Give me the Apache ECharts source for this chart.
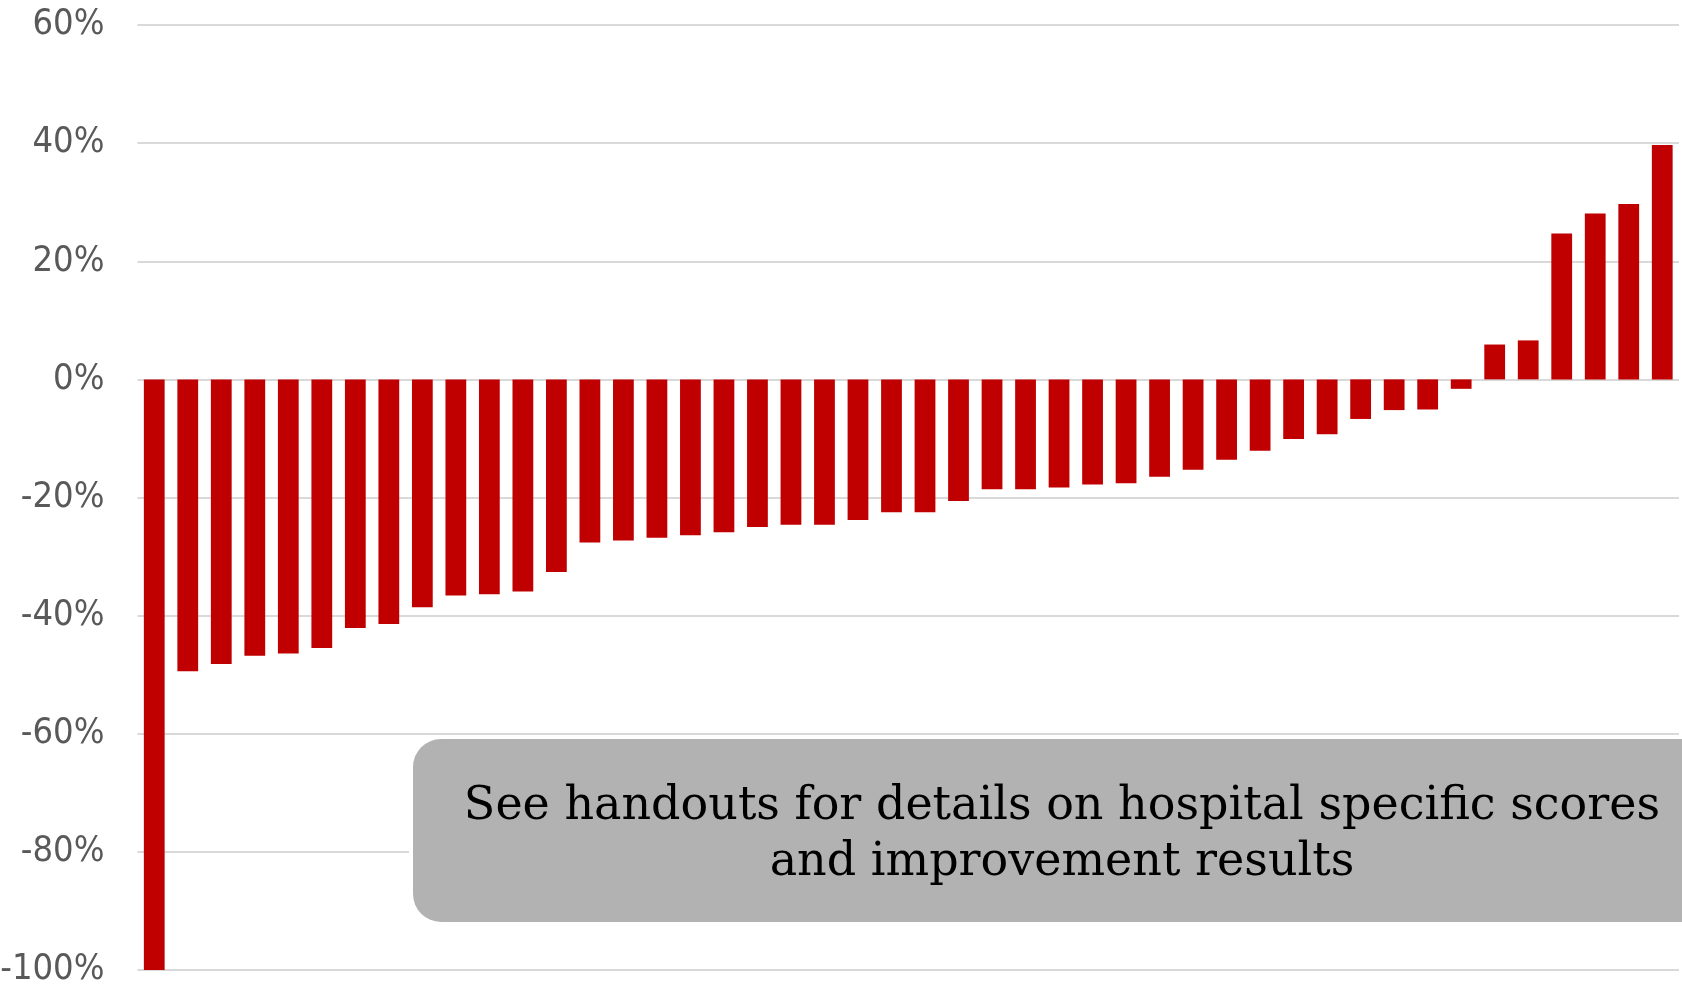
<html>
    <head>
        <meta charset="utf-8">
        <title>Hospital improvement</title>
        <script src="https://cdn.jsdelivr.net/npm/echarts/dist/echarts.min.js"></script>
        <style>
            html, body { margin: 0; padding: 0; background: #fff; }
            #chart { width: 1682px; height: 985px; }
        </style>
    </head>
    <body>
        <div id="chart"></div>
        <script type="text/javascript">
            // one bar per hospital, sorted by change (%)
            var hospitals = [];
            for (var i = 1; i <= 46; i++) {
                hospitals.push('H' + i);
            }
            var changePct = [
                -100, -49.4, -48.2, -46.8, -46.4, -45.5, -42.1, -41.4, -38.6, -36.6,
                -36.4, -35.9, -32.6, -27.6, -27.3, -26.8, -26.4, -25.9, -25.0, -24.6,
                -24.6, -23.8, -22.5, -22.5, -20.6, -18.6, -18.6, -18.3, -17.8, -17.6,
                -16.5, -15.3, -13.6, -12.1, -10.1, -9.3, -6.7, -5.2, -5.1, -1.6,
                5.9, 6.6, 24.7, 28.1, 29.7, 39.7
            ];
            var yTicks = { min: -100, max: 60, step: 20 };
            var noteLines = [
                'See handouts for details on hospital specific scores',
                'and improvement results'
            ];

            var dom = document.getElementById('chart');
            var myChart = echarts.init(dom);

            var option = {
                animation: false,
                grid: {
                    left: 137.5,
                    right: 3,
                    top: 25,
                    bottom: 15,
                    containLabel: false,
                    outerBoundsMode: 'none'
                },
                xAxis: {
                    type: 'category',
                    data: hospitals,
                    axisLine: { show: false },
                    axisTick: { show: false },
                    axisLabel: { show: false }
                },
                yAxis: {
                    type: 'value',
                    min: yTicks.min,
                    max: yTicks.max,
                    interval: yTicks.step,
                    axisLine: { show: false },
                    axisTick: { show: false },
                    splitLine: {
                        lineStyle: { color: '#d9d9d9', width: 2 }
                    },
                    axisLabel: {
                        formatter: '{value}%',
                        color: '#595959',
                        fontSize: 36,
                        fontFamily: "'DejaVu Sans Condensed', Lato, sans-serif",
                        margin: 33
                    }
                },
                series: [
                    {
                        name: 'Change',
                        type: 'bar',
                        barWidth: '62%',
                        data: changePct,
                        itemStyle: { color: '#c00000' }
                    }
                ],
                graphic: [
                    {
                        // white halo so the gridline stops short of the box
                        type: 'rect',
                        z: 90,
                        shape: { x: 409, y: 739, width: 1300, height: 183, r: 28 },
                        style: { fill: '#ffffff' }
                    },
                    {
                        type: 'rect',
                        z: 100,
                        shape: { x: 413, y: 739, width: 1300, height: 183, r: 28 },
                        style: { fill: '#b2b2b2' }
                    },
                    {
                        type: 'text',
                        z: 101,
                        x: 1062,
                        y: 835,
                        style: {
                            text: noteLines.join('\n'),
                            font: "46px 'DejaVu Serif', serif",
                            fill: '#000000',
                            align: 'center',
                            verticalAlign: 'middle',
                            lineHeight: 56
                        }
                    }
                ]
            };
            if (option && typeof option === "object") {
                myChart.setOption(option, true);
            }
        </script>
    </body>
</html>
